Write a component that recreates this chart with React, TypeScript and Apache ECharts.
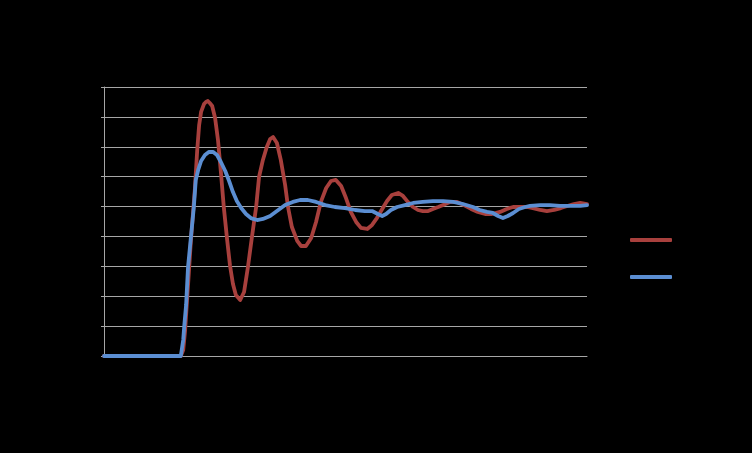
import React, { useEffect, useRef } from "react";
import * as echarts from "echarts";

const redTime = [0, 1.59, 1.64, 1.68, 1.72, 1.76, 1.8, 1.84, 1.88, 1.93, 1.97, 2.01, 2.07, 2.11, 2.15, 2.19, 2.24, 2.3, 2.36, 2.42, 2.48, 2.55, 2.61, 2.67, 2.73, 2.82, 2.9, 2.98, 3.06, 3.15, 3.21, 3.29, 3.37, 3.44, 3.5, 3.58, 3.66, 3.75, 3.81, 3.89, 4.0, 4.08, 4.18, 4.29, 4.39, 4.49, 4.6, 4.7, 4.8, 4.91, 5.01, 5.11, 5.22, 5.32, 5.45, 5.55, 5.65, 5.76, 5.86, 5.96, 6.09, 6.19, 6.29, 6.4, 6.5, 6.6, 6.71, 6.81, 6.92, 7.02, 7.16, 7.31, 7.45, 7.6, 7.74, 7.89, 8.03, 8.2, 8.34, 8.47, 8.61, 8.76, 8.88, 9.03, 9.17, 9.32, 9.46, 9.59, 9.73, 9.86, 10.0];
const redValue = [0, 0, 0.04, 0.174, 0.375, 0.575, 0.776, 0.944, 1.111, 1.378, 1.546, 1.633, 1.686, 1.7, 1.706, 1.693, 1.673, 1.593, 1.445, 1.231, 0.997, 0.776, 0.602, 0.482, 0.408, 0.375, 0.428, 0.596, 0.79, 0.997, 1.198, 1.312, 1.399, 1.452, 1.465, 1.425, 1.312, 1.144, 0.997, 0.863, 0.77, 0.736, 0.736, 0.79, 0.897, 1.031, 1.124, 1.171, 1.178, 1.138, 1.057, 0.964, 0.897, 0.857, 0.85, 0.877, 0.923, 0.984, 1.037, 1.077, 1.091, 1.071, 1.031, 0.997, 0.977, 0.97, 0.97, 0.984, 0.997, 1.01, 1.031, 1.031, 1.01, 0.984, 0.964, 0.95, 0.95, 0.964, 0.984, 0.997, 0.997, 0.997, 0.99, 0.977, 0.97, 0.977, 0.99, 1.004, 1.017, 1.024, 1.017];

const blueTime = [0, 1.59, 1.64, 1.66, 1.7, 1.74, 1.8, 1.86, 1.9, 1.95, 2.01, 2.09, 2.17, 2.26, 2.34, 2.42, 2.51, 2.59, 2.67, 2.75, 2.84, 2.94, 3.04, 3.17, 3.29, 3.44, 3.58, 3.75, 3.91, 4.06, 4.22, 4.39, 4.58, 4.78, 4.99, 5.2, 5.4, 5.55, 5.67, 5.76, 5.84, 5.94, 6.07, 6.23, 6.4, 6.6, 6.81, 7.02, 7.23, 7.43, 7.64, 7.78, 7.93, 8.05, 8.16, 8.26, 8.36, 8.47, 8.59, 8.72, 8.82, 9.03, 9.23, 9.44, 9.65, 9.86, 10.0];
const blueValue = [0, 0, 0.107, 0.194, 0.341, 0.596, 0.796, 0.997, 1.178, 1.245, 1.305, 1.345, 1.365, 1.365, 1.345, 1.298, 1.238, 1.171, 1.097, 1.037, 0.99, 0.95, 0.923, 0.91, 0.917, 0.937, 0.97, 1.01, 1.031, 1.044, 1.044, 1.031, 1.01, 0.997, 0.99, 0.977, 0.97, 0.97, 0.95, 0.937, 0.95, 0.977, 0.997, 1.01, 1.024, 1.031, 1.037, 1.037, 1.031, 1.017, 0.997, 0.977, 0.964, 0.957, 0.937, 0.923, 0.937, 0.957, 0.984, 0.997, 1.004, 1.01, 1.01, 1.004, 1.004, 1.004, 1.01];

const seriesNames = ["Series1", "Series2"];
const yTicks = { min: 0, max: 1.8, interval: 0.2 };

export default function App() {
  const ref = useRef<HTMLDivElement>(null);
  useEffect(() => {
    document.body.style.margin = "0";
    document.body.style.background = "#000";
    if (!ref.current) return;
    const chart = echarts.init(ref.current, undefined, { renderer: "svg" });
    const red = redTime.map((t, i) => [t, redValue[i]]);
    const blue = blueTime.map((t, i) => [t, blueValue[i]]);
    chart.setOption({
      animation: false,
      backgroundColor: "#000",
      grid: { left: 104, right: 165, top: 87, bottom: 97 },
      legend: {
        orient: "vertical",
        left: 630,
        top: 234,
        padding: 0,
        itemWidth: 42,
        itemHeight: 4,
        itemGap: 25,
        icon: "roundRect",
        textStyle: { color: "#000", fontFamily: "Liberation Sans", fontSize: 12 },
        data: seriesNames,
      },
      xAxis: {
        type: "value",
        min: 0,
        max: 10,
        axisLine: { show: true, lineStyle: { color: "#A6A6A6", width: 1 } },
        axisTick: { show: false },
        splitLine: { show: false },
        axisLabel: { color: "#000", fontFamily: "Liberation Sans" },
      },
      yAxis: {
        type: "value",
        min: yTicks.min,
        max: yTicks.max,
        interval: yTicks.interval,
        axisLine: { show: true, lineStyle: { color: "#A6A6A6", width: 1 } },
        axisTick: { show: true, length: 3, lineStyle: { color: "#A6A6A6" } },
        splitLine: { show: true, lineStyle: { color: "#A6A6A6", width: 1 } },
        axisLabel: { color: "#000", fontFamily: "Liberation Sans" },
      },
      series: [
        {
          name: seriesNames[0],
          type: "line",
          data: red,
          smooth: false,
          showSymbol: false,
          lineStyle: { color: "#A8403D", width: 3.8, join: "round", cap: "round" },
          itemStyle: { color: "#A8403D" },
        },
        {
          name: seriesNames[1],
          type: "line",
          data: blue,
          smooth: false,
          showSymbol: false,
          lineStyle: { color: "#5B8ED2", width: 3.8, join: "round", cap: "round" },
          itemStyle: { color: "#5B8ED2" },
        },
      ],
    });
    return () => chart.dispose();
  }, []);
  return <div ref={ref} style={{ width: 752, height: 453, position: "fixed", left: 0, top: 0 }} />;
}
